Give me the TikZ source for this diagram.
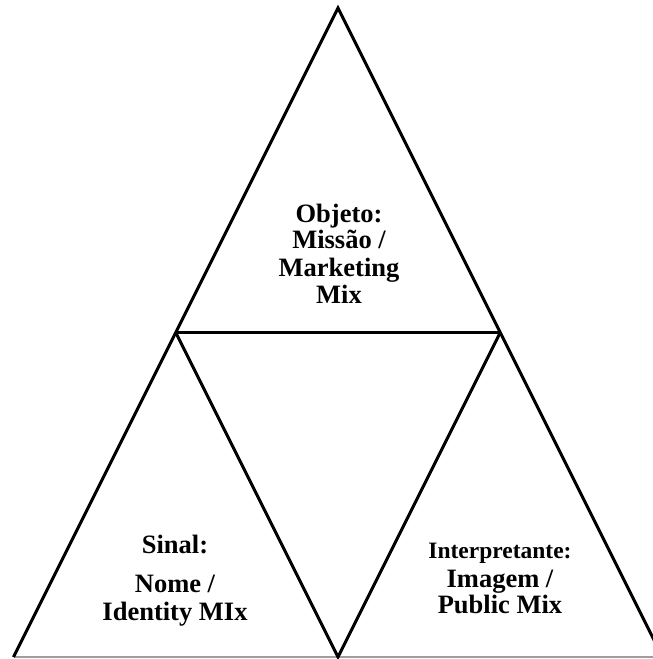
\documentclass[tikz,border=0pt]{standalone}
\usepackage{fontspec}
\setmainfont{Liberation Serif}
\begin{document}
\begin{tikzpicture}[x=1pt,y=-1pt,
  edge/.style={line width=3pt,line join=miter},
  baseedge/.style={line width=1.1pt,draw=black!38},
  lbl/.style={anchor=base,inner sep=0pt,font=\bfseries\fontsize{26.5}{27}\selectfont},
  lblsmall/.style={anchor=base,inner sep=0pt,font=\bfseries\fontsize{23.5}{27}\selectfont}]
\useasboundingbox (0,0) rectangle (653,659);
\clip (0,0) rectangle (653,659);
\coordinate (A) at (338,8);
\coordinate (BL) at (13.5,657);
\coordinate (BR) at (662.5,657);
\coordinate (ML) at (175.75,332.5);
\coordinate (MR) at (500.25,332.5);
\coordinate (BM) at (338,657);
\draw[baseedge] (BL) -- (BR);
\draw[edge] (BL) -- (A) -- (BR);
\draw[edge] (ML) -- (MR);
\draw[edge] (ML) -- (BM) -- (MR);
% top
\node[lbl] (o1) at (339,222) {Objeto:};
\node[lbl] (o2) at (339,248.5) {Missão /};
\node[lbl] (o3) at (339,276) {Marketing};
\node[lbl] (o4) at (339,303) {Mix};
% left
\node[lbl] (s1) at (175,553) {Sinal:};
\node[lbl] (s2) at (175,592) {Nome /};
\node[lbl] (s3) at (175,620) {Identity MIx};
% right
\node[lblsmall] (i1) at (500,558) {Interpretante:};
\node[lbl] (i2) at (500,587) {Imagem /};
\node[lbl] (i3) at (500,613) {Public Mix};
\end{tikzpicture}
\end{document}
